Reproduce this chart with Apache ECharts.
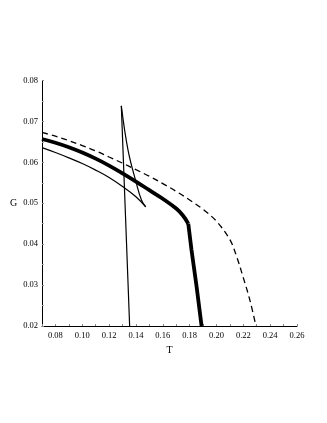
<!DOCTYPE html>
<html><head><meta charset="utf-8">
<script src="https://cdn.jsdelivr.net/npm/echarts@6/dist/echarts.min.js"></script>
<style>html,body{margin:0;padding:0;background:#fff}#c{width:327px;height:423px}</style>
</head><body><div id="c"></div>
<script>
var xTicks = [0.08,0.10,0.12,0.14,0.16,0.18,0.20,0.22,0.24,0.26];
var yTicks = [0.02,0.03,0.04,0.05,0.06,0.07,0.08];
var thickT = [0.07,0.08,0.09,0.10,0.11,0.12,0.13,0.14,0.15,0.16,0.17,0.175,0.179];
var thickG = [0.0657,0.0648,0.0637,0.0624,0.0609,0.0592,0.0573,0.0553,0.0532,0.0511,0.0487,0.0470,0.0450];
var thickDropT = [0.179,0.1814,0.1852,0.1889];
var thickDropG = [0.0450,0.0386,0.0296,0.02];
var dashT = [0.07,0.08,0.09,0.10,0.11,0.12,0.13,0.14,0.15,0.16,0.17,0.18,0.19,0.20,0.21,0.215,0.22,0.225,0.2294];
var dashG = [0.0673,0.0664,0.0653,0.0641,0.0628,0.0613,0.0598,0.0582,0.0566,0.0548,0.0529,0.0508,0.0485,0.0456,0.0411,0.0370,0.0318,0.0262,0.02];
var thinLowT = [0.07,0.08,0.09,0.10,0.11,0.12,0.13,0.14,0.1473];
var thinLowG = [0.0636,0.0624,0.0611,0.0597,0.0581,0.0563,0.0541,0.0516,0.0491];
var thinUpT = [0.1473,0.1441,0.1403,0.1341,0.1291];
var thinUpG = [0.0491,0.0508,0.0549,0.0630,0.0738];
var thinVertT = [0.1291,0.1322,0.1353];
var thinVertG = [0.0738,0.0470,0.02];
function pairs(a,b){return a.map(function(v,i){return [v,b[i]];});}
var font = 'Liberation Serif';
var chart = echarts.init(document.getElementById('c'));
function line(a,b,w,type,smooth){return {type:'line',data:pairs(a,b),showSymbol:false,smooth:smooth,lineStyle:{color:'#000',width:w,type:type||'solid'},z:2};}
chart.setOption({
  animation:false,
  grid:{left:42,right:30,top:80.5,bottom:97},
  xAxis:{type:'value',min:0.07,max:0.26,interval:0.01,name:'T',nameLocation:'middle',nameGap:17,
    nameTextStyle:{fontFamily:font,fontSize:10,color:'#000'},
    axisLine:{lineStyle:{color:'#000',width:1}},
    axisTick:{inside:true,length:2,lineStyle:{color:'#888'}},
    splitLine:{show:false},
    axisLabel:{fontFamily:font,fontSize:8.5,color:'#000',margin:5,
      formatter:function(v){return xTicks.some(function(t){return Math.abs(t-v)<1e-6;})?v.toFixed(2):'';}}},
  yAxis:{type:'value',min:0.02,max:0.08,interval:0.01,name:'G',nameLocation:'middle',nameGap:20,nameRotate:0,
    nameTextStyle:{fontFamily:font,fontSize:10,color:'#000'},
    axisLine:{show:true,lineStyle:{color:'#000',width:1}},
    axisTick:{show:true,inside:true,length:2,lineStyle:{color:'#888'}},
    minorTick:{show:true,splitNumber:2,length:2,lineStyle:{color:'#aaa'}},
    splitLine:{show:false},
    axisLabel:{fontFamily:font,fontSize:8.5,color:'#000',margin:4,
      formatter:function(v){return yTicks.some(function(t){return Math.abs(t-v)<1e-6;})?v.toFixed(2):'';}}},
  series:[
    line(dashT,dashG,1.3,[6,4],0.35),
    line(thinLowT,thinLowG,1.2,'solid',0.4),
    line(thinUpT,thinUpG,1.2,'solid',0.4),
    line(thinVertT,thinVertG,1.2,'solid',false),
    line(thickT,thickG,3.8,'solid',0.4),
    line(thickDropT,thickDropG,3.8,'solid',false)
  ]
});
</script></body></html>
